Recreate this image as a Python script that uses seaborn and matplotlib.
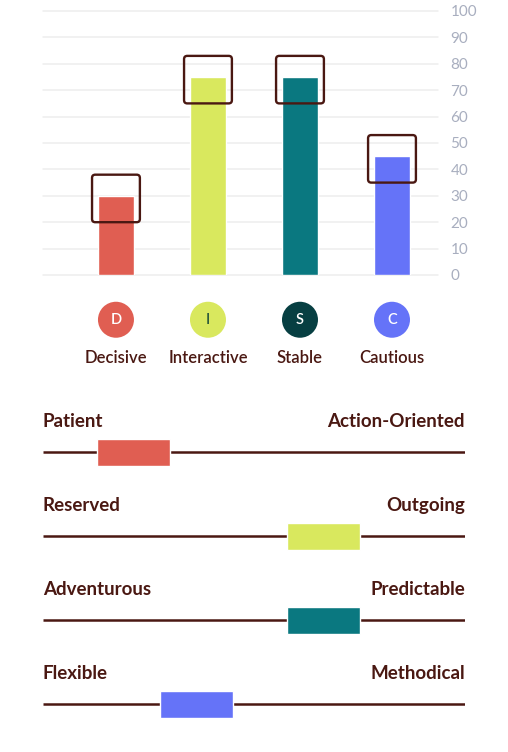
import numpy as np
import pandas as pd
import matplotlib
matplotlib.use("Agg")
import matplotlib.pyplot as plt
import seaborn as sns
from matplotlib.patches import FancyBboxPatch

# ---- data ----
traits = ["Decisive", "Interactive", "Stable", "Cautious"]
letters = ["D", "I", "S", "C"]
scores = [30, 75, 75, 45]
box_low = [20, 65, 65, 35]
box_high = [38, 83, 83, 53]

bar_colors = ["#E05E52", "#D9E85E", "#0A7880", "#6573F8"]
circle_colors = ["#E05E52", "#D9E85E", "#073F42", "#6573F8"]
letter_colors = ["white", "#2F5D3A", "white", "white"]

left_labels = ["Patient", "Reserved", "Adventurous", "Flexible"]
right_labels = ["Action-Oriented", "Outgoing", "Predictable", "Methodical"]
slider_pos = [21.4, 66.5, 66.5, 36.4]   # centre of marker, 0-100 scale
slider_width = 17.3

brown = "#4A1812"
tick_gray = "#A8AEBF"

sns.set_style("white")
plt.rcParams["font.family"] = ["Lato", "DejaVu Sans"]

W, H = 508, 752
fig = plt.figure(figsize=(W / 100, H / 100), dpi=100)

def px_axes(left, top, right, bottom):
    return fig.add_axes([left / W, 1 - bottom / H, (right - left) / W, (bottom - top) / H])

# ---- bar chart ----
ax = px_axes(43, 11, 438, 275)
df = pd.DataFrame({"trait": traits, "score": scores})
sns.barplot(data=df, x="trait", y="score", hue="trait", palette=bar_colors,
            width=0.39, saturation=1, legend=False, ax=ax, zorder=2)
ax.set_xlim(-0.793, 3.5)
ax.set_ylim(0, 100)
ax.set_yticks(range(0, 101, 10))
ax.yaxis.tick_right()
ax.tick_params(axis="y", length=0, pad=9, labelsize=11, labelcolor=tick_gray)
for lab in ax.get_yticklabels():
    lab.set_horizontalalignment("left")
ax.set_xticks([])
ax.set_xlabel("")
ax.set_ylabel("")
ax.grid(axis="y", color="#EDEDED", linewidth=1.1, zorder=0)
for gl in ax.get_ygridlines():
    gl.set_clip_on(False)
sns.despine(ax=ax, left=True, bottom=True, right=True, top=True)

# outline boxes around bar tops
aspect = (100 / 264) / (4.293 / 395)
for i in range(len(traits)):
    hw = 0.26
    box = FancyBboxPatch((i - hw, box_low[i]), 2 * hw, box_high[i] - box_low[i],
                         boxstyle="round,pad=0,rounding_size=0.035",
                         mutation_aspect=aspect, fill=False,
                         edgecolor=brown, linewidth=1.7, zorder=3)
    ax.add_patch(box)

# ---- circles and labels ----
ax2 = px_axes(43, 290, 438, 375)
ax2.set_xlim(-0.793, 3.5)
ax2.set_ylim(1, 0)
ax2.axis("off")
xs = np.arange(len(traits))
ax2.scatter(xs, [0.35] * len(xs), s=(36 * 0.72) ** 2, c=circle_colors,
            edgecolors="none", clip_on=False)
for i in xs:
    ax2.text(i, 0.35, letters[i], ha="center", va="center", fontsize=10.5,
             fontweight="semibold", color=letter_colors[i])
    ax2.text(i, 0.80, traits[i], ha="center", va="center", fontsize=12,
             fontweight="semibold", color=brown)

# ---- sliders ----
ax3 = px_axes(43, 395, 465, 731)
ax3.set_xlim(0, 100)
ax3.set_ylim(3.32, -0.68)
ax3.axis("off")
rows = np.arange(len(left_labels))
ax3.hlines(rows, 0, 100, color=brown, linewidth=1.8, zorder=1)
ax3.barh(rows, [slider_width] * len(rows),
         left=[p - slider_width / 2 for p in slider_pos],
         height=0.32, color=bar_colors, zorder=2)
for r in rows:
    ax3.text(0, r - 0.37, left_labels[r], ha="left", va="center",
             fontsize=13.5, fontweight="bold", color=brown)
    ax3.text(100, r - 0.37, right_labels[r], ha="right", va="center",
             fontsize=13.5, fontweight="bold", color=brown)

fig.savefig("out.png", dpi=100)
